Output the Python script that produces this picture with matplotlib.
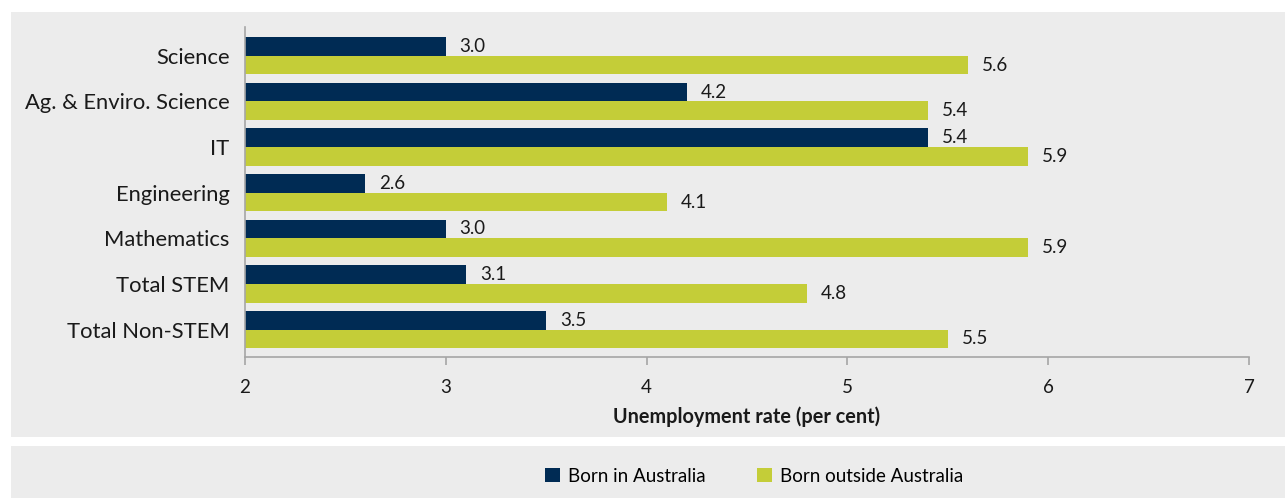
import matplotlib
matplotlib.use("Agg")
import matplotlib.pyplot as plt
from matplotlib.patches import Rectangle, Patch

plt.rcParams['font.family'] = ['Lato', 'DejaVu Sans']

categories = ["Science", "Ag. & Enviro. Science", "IT", "Engineering",
              "Mathematics", "Total STEM", "Total Non-STEM"]
born_in = [3.0, 4.2, 5.4, 2.6, 3.0, 3.1, 3.5]
born_outside = [5.6, 5.4, 5.9, 4.1, 5.9, 4.8, 5.5]
series_names = ["Born in Australia", "Born outside Australia"]
x_ticks = [2, 3, 4, 5, 6, 7]

DARK = "#002b54"
LIME = "#c4cd38"
PANEL = "#ececec"
SPINE = "#a6a6a6"
TEXT = "#1a1a1a"

W, H = 1285, 498
fig = plt.figure(figsize=(W / 100, H / 100), dpi=100)
fig.patch.set_facecolor("white")

# background panels for plot area and legend
fig.patches.append(Rectangle((11 / W, 1 - 437 / H), 1 - 11 / W, (437 - 12) / H,
                             transform=fig.transFigure, facecolor=PANEL,
                             edgecolor="none", zorder=-5))
fig.patches.append(Rectangle((11 / W, 0), 1 - 11 / W, (498 - 446) / H,
                             transform=fig.transFigure, facecolor=PANEL,
                             edgecolor="none", zorder=-5))

ax = fig.add_axes([245 / W, 1 - 357 / H, (1249 - 245) / W, (357 - 27) / H])
ax.set_zorder(2)
ax.set_facecolor("none")

bh = 0.41
ys = list(range(len(categories)))
y_in = [y - bh / 2 for y in ys]
y_out = [y + bh / 2 for y in ys]
base = x_ticks[0]

ax.barh(y_in, [v - base for v in born_in], left=base, height=bh, color=DARK)
ax.barh(y_out, [v - base for v in born_outside], left=base, height=bh, color=LIME)

for y, v in zip(y_in, born_in):
    ax.annotate(f"{v:.1f}", (v, y), xytext=(10, 0), textcoords="offset points",
                va="center", ha="left", fontsize=13.5, color=TEXT)
for y, v in zip(y_out, born_outside):
    ax.annotate(f"{v:.1f}", (v, y), xytext=(10, 0), textcoords="offset points",
                va="center", ha="left", fontsize=13.5, color=TEXT)

ax.set_xlim(2, 7)
ax.set_ylim(6.6, -0.63)
ax.set_xticks(x_ticks)
ax.set_xticklabels([str(t) for t in x_ticks], fontsize=13.5, color=TEXT)
ax.set_yticks(ys)
ax.set_yticklabels(categories, fontsize=15.8, color=TEXT)
ax.tick_params(axis="y", length=0, pad=11)
ax.tick_params(axis="x", length=6, width=1.2, color=SPINE, pad=10)
for s in ["top", "right"]:
    ax.spines[s].set_visible(False)
for s in ["left", "bottom"]:
    ax.spines[s].set_color(SPINE)
    ax.spines[s].set_linewidth(1.2)
ax.set_xlabel("Unemployment rate (per cent)", fontsize=14.3, fontweight="bold",
              color=TEXT, labelpad=7)

handles = [Patch(facecolor=DARK, label=series_names[0]),
           Patch(facecolor=LIME, label=series_names[1])]
fig.legend(handles=handles, loc="center", bbox_to_anchor=(754 / W, 1 - 476 / H),
           ncol=2, frameon=False, fontsize=13.5, handlelength=0.8, handleheight=0.8,
           handletextpad=0.45, columnspacing=2.7)

fig.savefig("out.png", dpi=100, facecolor="white")
